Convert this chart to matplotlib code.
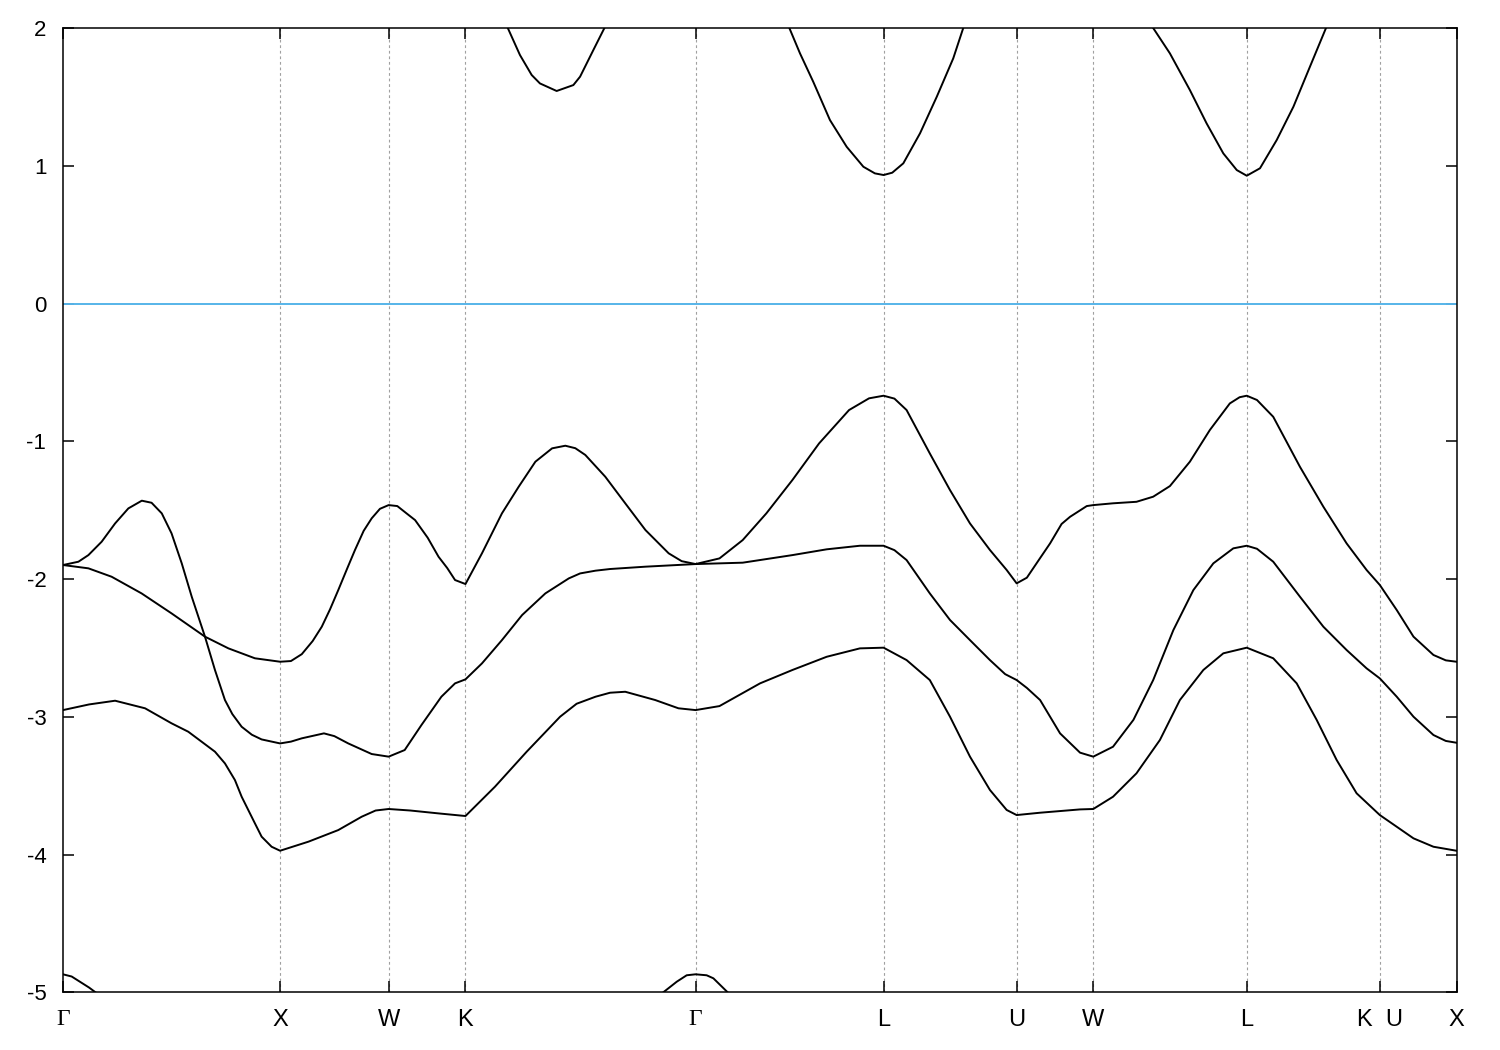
import numpy as np
import matplotlib
matplotlib.use('Agg')
import matplotlib.pyplot as plt

plt.rcParams['font.family'] = ['Liberation Sans', 'DejaVu Sans']
plt.rcParams['axes.unicode_minus'] = False

# high-symmetry points along the fcc path (2pi/a units)
kpts = [0.0, 1.0, 1.5, 1.8536, 2.9142, 3.7802, 4.3926, 4.7462, 5.4533, 6.0656, 6.4192]
klabels = ['Γ', 'X', 'W', 'K', 'Γ', 'L', 'U', 'W', 'L', 'K  U', 'X']

# upper valence band
upper_k = [0, 0.117, 0.224, 0.362, 0.5, 0.654, 0.762, 0.884, 1.0,
           1.05, 1.1, 1.15, 1.192, 1.23, 1.268, 1.31, 1.345, 1.385, 1.422, 1.46, 1.5,
           1.54, 1.58, 1.622, 1.68, 1.73, 1.77, 1.806, 1.854,
           1.93, 2.022, 2.099, 2.176, 2.253, 2.314, 2.36, 2.406, 2.498, 2.59, 2.683, 2.79, 2.85, 2.914,
           3.024, 3.131, 3.24, 3.36, 3.483, 3.621, 3.713, 3.78,
           3.83, 3.886, 3.993, 4.086, 4.178, 4.27, 4.347, 4.393,
           4.44, 4.50, 4.547, 4.60, 4.639, 4.716, 4.746,
           4.837, 4.945, 5.022, 5.099, 5.191, 5.283, 5.375, 5.42, 5.453,
           5.50, 5.575, 5.698, 5.806, 5.913, 6.005, 6.066,
           6.144, 6.221, 6.313, 6.37, 6.419]
upper_e = [-1.898, -1.922, -1.983, -2.104, -2.249, -2.418, -2.503, -2.575, -2.600,
           -2.595, -2.545, -2.45, -2.346, -2.22, -2.08, -1.92, -1.789, -1.65, -1.559, -1.49, -1.463,
           -1.47, -1.52, -1.572, -1.70, -1.838, -1.92, -2.007, -2.036,
           -1.813, -1.523, -1.330, -1.148, -1.051, -1.032, -1.05, -1.099, -1.257, -1.450, -1.644, -1.813, -1.87, -1.891,
           -1.850, -1.717, -1.523, -1.281, -1.015, -0.773, -0.688, -0.669,
           -0.69, -0.773, -1.088, -1.354, -1.596, -1.789, -1.934, -2.031,
           -1.99, -1.85, -1.741, -1.60, -1.548, -1.470, -1.463,
           -1.450, -1.439, -1.402, -1.325, -1.148, -0.918, -0.725, -0.68, -0.669,
           -0.70, -0.822, -1.185, -1.475, -1.741, -1.934, -2.043,
           -2.225, -2.418, -2.551, -2.59, -2.600]

# middle valence band
middle_k = [0, 0.071, 0.117, 0.178, 0.24, 0.301, 0.363, 0.408, 0.455, 0.5, 0.547, 0.593, 0.654, 0.700,
            0.746, 0.78, 0.823, 0.87, 0.915, 1.0,
            1.05, 1.1, 1.202, 1.25, 1.314, 1.422, 1.5,
            1.574, 1.651, 1.743, 1.806, 1.854,
            1.93, 2.022, 2.115, 2.222, 2.33, 2.382, 2.453, 2.52, 2.683, 2.914,
            3.131, 3.36, 3.518, 3.671, 3.78,
            3.83, 3.886, 3.993, 4.086, 4.178, 4.27, 4.34, 4.393,
            4.44, 4.501, 4.593, 4.685, 4.746,
            4.837, 4.931, 5.022, 5.115, 5.207, 5.299, 5.391, 5.453,
            5.50, 5.575, 5.698, 5.806, 5.913, 6.005, 6.066,
            6.144, 6.221, 6.313, 6.37, 6.419]
middle_e = [-1.898, -1.874, -1.826, -1.729, -1.596, -1.487, -1.431, -1.446, -1.523, -1.668, -1.886, -2.128, -2.418, -2.660,
            -2.878, -2.98, -3.072, -3.13, -3.164, -3.193,
            -3.18, -3.156, -3.12, -3.14, -3.193, -3.270, -3.289,
            -3.241, -3.06, -2.854, -2.757, -2.728,
            -2.612, -2.443, -2.261, -2.104, -1.995, -1.959, -1.939, -1.927, -1.910, -1.891,
            -1.881, -1.826, -1.784, -1.758, -1.758,
            -1.79, -1.862, -2.104, -2.297, -2.443, -2.588, -2.69, -2.733,
            -2.79, -2.878, -3.12, -3.260, -3.289,
            -3.217, -3.022, -2.733, -2.370, -2.080, -1.886, -1.777, -1.758,
            -1.78, -1.874, -2.128, -2.346, -2.515, -2.648, -2.721,
            -2.854, -2.999, -3.132, -3.175, -3.188]

# lower valence band
lower_k = [0, 0.12, 0.24, 0.378, 0.5, 0.577, 0.639, 0.700, 0.746, 0.792, 0.823, 0.884, 0.915, 0.961, 1.0,
           1.131, 1.268, 1.376, 1.44, 1.5,
           1.60, 1.73, 1.854,
           1.99, 2.136, 2.29, 2.366, 2.453, 2.52, 2.59, 2.728, 2.835, 2.914,
           3.024, 3.211, 3.36, 3.518, 3.671, 3.78,
           3.886, 3.993, 4.086, 4.178, 4.27, 4.347, 4.393,
           4.501, 4.685, 4.746,
           4.837, 4.945, 5.053, 5.145, 5.253, 5.345, 5.453,
           5.575, 5.683, 5.775, 5.867, 5.959, 6.066,
           6.144, 6.221, 6.313, 6.419]
lower_e = [-2.951, -2.91, -2.883, -2.938, -3.047, -3.108, -3.181, -3.253, -3.338, -3.459, -3.580, -3.773, -3.870, -3.943, -3.972,
           -3.906, -3.822, -3.725, -3.68, -3.669,
           -3.68, -3.701, -3.720,
           -3.507, -3.253, -2.999, -2.905, -2.854, -2.825, -2.818, -2.878, -2.938, -2.951,
           -2.922, -2.757, -2.660, -2.564, -2.503, -2.498,
           -2.588, -2.733, -2.999, -3.289, -3.531, -3.676, -3.713,
           -3.696, -3.672, -3.669,
           -3.580, -3.410, -3.168, -2.878, -2.660, -2.539, -2.498,
           -2.575, -2.757, -3.022, -3.313, -3.555, -3.713,
           -3.798, -3.882, -3.943, -3.972]

# deep band, only its top is in view
deep1_k = [0, 0.04, 0.08, 0.12, 0.15]
deep1_e = [-4.869, -4.885, -4.925, -4.965, -5.0]
deep2_k = [2.765, 2.827, 2.873, 2.914, 2.965, 2.996, 3.062]
deep2_e = [-5.0, -4.923, -4.876, -4.869, -4.876, -4.898, -5.0]

# conduction band pieces below 2 eV
cb1_k = [2.049, 2.105, 2.159, 2.197, 2.274, 2.351, 2.382, 2.443, 2.494]
cb1_e = [2.0, 1.804, 1.659, 1.598, 1.543, 1.586, 1.647, 1.840, 2.0]
cb2_k = [3.346, 3.395, 3.456, 3.533, 3.610, 3.687, 3.74, 3.78, 3.82, 3.871, 3.948, 4.025, 4.101, 4.147]
cb2_e = [2.0, 1.816, 1.610, 1.332, 1.138, 0.993, 0.945, 0.933, 0.95, 1.018, 1.236, 1.501, 1.780, 2.0]
cb3_k = [5.022, 5.099, 5.191, 5.268, 5.345, 5.407, 5.453, 5.514, 5.591, 5.668, 5.744, 5.818]
cb3_e = [2.0, 1.816, 1.550, 1.308, 1.090, 0.969, 0.928, 0.982, 1.187, 1.429, 1.719, 2.0]

bands = [(upper_k, upper_e), (middle_k, middle_e), (lower_k, lower_e),
         (deep1_k, deep1_e), (deep2_k, deep2_e),
         (cb1_k, cb1_e), (cb2_k, cb2_e), (cb3_k, cb3_e)]

fig = plt.figure(figsize=(15, 10.5), dpi=100)
ax = fig.add_axes([0.042, 0.0549, 0.929, 0.9184])

for kx in kpts[1:-1]:
    ax.axvline(kx, color='#a0a0a0', lw=0.8, dashes=(2.5, 2.5), zorder=1)

ax.axhline(0, color='#56b4e9', lw=1.4, zorder=2)

for bk, be in bands:
    ax.plot(bk, be, color='black', lw=1.4, zorder=3)

ax.set_xlim(kpts[0], kpts[-1])
ax.set_ylim(-5, 2)
ax.set_xticks(kpts)
ax.set_xticklabels(klabels)
for lab, txt in zip(ax.get_xticklabels(), klabels):
    if txt == 'Γ':
        lab.set_family('Liberation Serif')
        lab.set_fontsize(19)
ax.set_yticks(range(-5, 3))
ax.tick_params(direction='in', top=True, right=True, length=8, width=1.1,
               labelsize=16, pad=12)
ax.tick_params(axis='x', labelsize=17)
for sp in ax.spines.values():
    sp.set_linewidth(1.1)

fig.savefig('out.png', dpi=100)
